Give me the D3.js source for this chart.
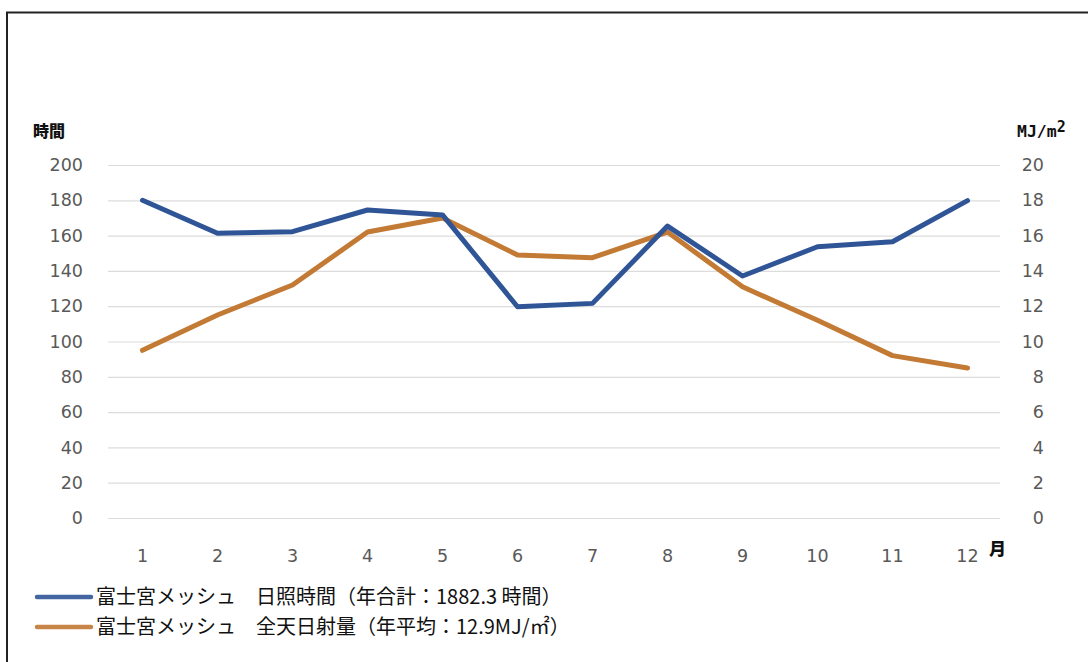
<!DOCTYPE html>
<html lang="ja">
<head>
<meta charset="utf-8">
<script src="https://cdn.jsdelivr.net/npm/d3@7"></script>
<style>
  html, body { margin: 0; padding: 0; background: #fff; }
  svg { display: block; }
</style>
</head>
<body>
<svg id="chart" width="1088" height="662"></svg>
<script>
// Monthly values for the 富士宮 mesh point
const months = [1, 2, 3, 4, 5, 6, 7, 8, 9, 10, 11, 12];
const sunshineHours = [180, 161.3, 162.2, 174.5, 171.7, 119.7, 121.6, 165.4, 137.1, 153.7, 156.5, 179.8];
const radiation = [9.5, 11.5, 13.2, 16.2, 17.0, 14.9, 14.75, 16.2, 13.1, 11.2, 9.2, 8.5];
const leftTicks = [0, 20, 40, 60, 80, 100, 120, 140, 160, 180, 200];
const rightTicks = [0, 2, 4, 6, 8, 10, 12, 14, 16, 18, 20];
const legendLabels = [
  "富士宮メッシュ　日照時間（年合計：1882.3 時間）",
  "富士宮メッシュ　全天日射量（年平均：12.9MJ/㎡）"
];
const seriesColors = ["#2f5597", "#c27a34"];

const svg = d3.select("#chart");

// outer frame (top and left edges)
svg.append("path")
  .attr("d", "M7,663 V12.5 H1088")
  .attr("fill", "none")
  .attr("stroke", "#222")
  .attr("stroke-width", 2);

const plot = { left: 105, right: 1005, top: 165, bottom: 518 };

const x = d3.scaleBand().domain(months).range([plot.left, plot.right]);
const yL = d3.scaleLinear().domain([0, 200]).range([plot.bottom, plot.top]);
const yR = d3.scaleLinear().domain([0, 20]).range([plot.bottom, plot.top]);
const cx = m => x(m) + x.bandwidth() / 2;

function styleTicks(g) {
  g.select(".domain").remove();
  g.selectAll(".tick text")
    .attr("font-family", "'DejaVu Sans', Verdana, sans-serif")
    .attr("font-size", 17.5)
    .attr("fill", "#595959");
}

// horizontal gridlines
const grid = svg.append("g")
  .attr("transform", `translate(${plot.right - 5},0)`)
  .call(d3.axisLeft(yL).tickValues(leftTicks).tickSize(plot.right - plot.left - 8).tickFormat(""));
grid.select(".domain").remove();
grid.selectAll(".tick line").attr("stroke", "#dcdcdc").attr("stroke-width", 1.2);

// left axis labels
svg.append("g")
  .attr("transform", `translate(83,0)`)
  .call(d3.axisLeft(yL).tickValues(leftTicks).tickSize(0).tickPadding(0))
  .call(styleTicks);

// right axis labels (right-aligned)
svg.append("g")
  .attr("transform", `translate(1044,0)`)
  .call(d3.axisLeft(yR).tickValues(rightTicks).tickSize(0).tickPadding(0))
  .call(styleTicks);

// month labels
svg.append("g")
  .attr("transform", `translate(0,${plot.bottom + 32})`)
  .call(d3.axisBottom(x).tickSize(0).tickPadding(0))
  .call(styleTicks);

// axis titles
svg.append("text")
  .attr("x", 33).attr("y", 137)
  .attr("font-family", "'Noto Sans CJK JP', sans-serif")
  .attr("font-weight", 900).attr("font-size", 16).attr("fill", "#111")
  .text("時間");

const unit = svg.append("text")
  .attr("x", 1017).attr("y", 137)
  .attr("font-family", "'DejaVu Sans Mono', monospace")
  .attr("font-weight", "bold").attr("font-size", 16.5).attr("fill", "#111")
  .text("MJ/m");
unit.append("tspan").attr("dy", -5).attr("font-size", 15).text("2");

svg.append("text")
  .attr("x", 989).attr("y", 555)
  .attr("font-family", "'Noto Sans CJK JP', sans-serif")
  .attr("font-weight", 900).attr("font-size", 17).attr("fill", "#111")
  .text("月");

// series lines
const lineL = d3.line().x((d, i) => cx(months[i])).y(d => yL(d));
const lineR = d3.line().x((d, i) => cx(months[i])).y(d => yR(d));

svg.append("path")
  .datum(radiation)
  .attr("d", lineR)
  .attr("fill", "none")
  .attr("stroke", seriesColors[1])
  .attr("stroke-width", 5)
  .attr("stroke-linejoin", "round")
  .attr("stroke-linecap", "round");

svg.append("path")
  .datum(sunshineHours)
  .attr("d", lineL)
  .attr("fill", "none")
  .attr("stroke", seriesColors[0])
  .attr("stroke-width", 5)
  .attr("stroke-linejoin", "round")
  .attr("stroke-linecap", "round");

// legend
const legend = svg.append("g");
legendLabels.forEach((label, i) => {
  const yy = 597 + i * 30;
  legend.append("line")
    .attr("x1", 37).attr("x2", 91).attr("y1", yy).attr("y2", yy)
    .attr("stroke", seriesColors[i]).attr("stroke-width", 4.5)
    .attr("stroke-linecap", "round").attr("opacity", 0.9);
  legend.append("text")
    .attr("x", 96).attr("y", yy + 7)
    .attr("font-family", "'Noto Sans CJK JP', sans-serif")
    .attr("font-size", 20).attr("fill", "#111")
    .text(label);
});
</script>
</body>
</html>
